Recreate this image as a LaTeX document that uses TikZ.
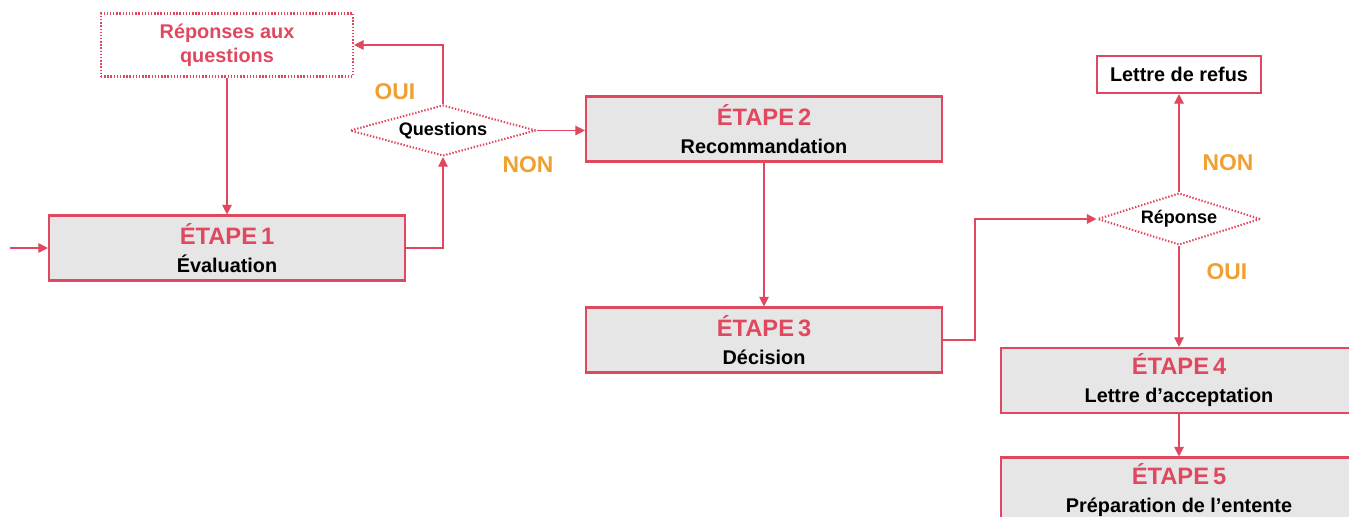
\documentclass[tikz,border=0pt]{standalone}
\usepackage{fontspec}
\setmainfont{Liberation Sans}
\usetikzlibrary{shapes.geometric,arrows.meta}
\definecolor{rouge}{HTML}{E0485F}
\definecolor{orange}{HTML}{F0A030}
\definecolor{grisclair}{HTML}{E6E6E6}
\tikzset{
  etape/.style={draw=rouge, line width=1.2pt, fill=grisclair, minimum width=7.12cm,
    minimum height=1.3cm, align=center, font=\bfseries\fontsize{11.3}{15.9}\selectfont},
  pointille/.style={draw=rouge, line width=1.2pt, dash pattern=on 0.8pt off 1pt},
  choix/.style={pointille, diamond, aspect=3.6, inner sep=0pt, align=center,
    font=\bfseries\fontsize{10.3}{12}\selectfont},
  reponse/.style={font=\bfseries\fontsize{13}{15}\selectfont, text=orange},
  fleche/.style={draw=rouge, line width=0.7pt, -{Triangle[length=5.5pt,width=5.5pt]}}
}
\newcommand{\titre}[1]{{\color{rouge}\fontsize{13.5}{15.9}\selectfont ÉTAPE\,#1}}

\begin{document}
\begin{tikzpicture}
    \useasboundingbox (0,0) rectangle (26.98,10.34);
    % Boxes of the steps
    \node[etape] (e1) at (4.54,5.38) {\titre{1}\\ Évaluation};
    \node[etape] (e2) at (15.28,7.76) {\titre{2}\\ Recommandation};
    \node[etape] (e3) at (15.28,3.54) {\titre{3}\\ Décision};
    \node[etape] (e4) at (23.58,2.73) {\titre{4}\\ Lettre d’acceptation};
    \node[etape] (e5) at (23.58,0.54) {\titre{5}\\ Préparation de l’entente};
    % Other boxes
    \node[pointille, minimum width=5.04cm, minimum height=1.26cm, align=center, text=rouge,
        font=\bfseries\fontsize{11.3}{13.6}\selectfont] (rep) at (4.54,9.44) {Réponses aux\\ questions};
    \node[draw=rouge, line width=1.2pt, minimum width=3.28cm, minimum height=0.74cm,
        font=\bfseries\fontsize{11.3}{13}\selectfont] (refus) at (23.58,8.85) {Lettre de refus};
    % Decisions
    \node[choix, minimum width=3.72cm, minimum height=1.02cm] (q) at (8.86,7.73) {Questions};
    \node[choix, minimum width=3.26cm, minimum height=1.04cm] (r) at (23.58,5.96) {Réponse};
    \coordinate (debut) at (0.2,5.38);
    % Connectors
    \draw[fleche] (debut) -- (e1.west);
    \draw[fleche] (e1.east) -| (q.south);
    \draw[fleche] (q.north) |- (rep.east);
    \draw[fleche] (rep.south) -- (e1.north);
    \draw[fleche] (q.east) -- (q.east -| e2.west);
    \draw[fleche] (e2.south) -- (e3.north);
    \draw[fleche] (e3.east) -- ++(0.64,0) |- (r.west);
    \draw[fleche] (r.north) -- (refus.south);
    \draw[fleche] (r.south) -- (e4.north);
    \draw[fleche] (e4.south) -- (e5.north);
    % Labels
    \node[reponse] (qoui) at (7.9,8.5) {OUI};
    \node[reponse] (qnon) at (10.56,7.04) {NON};
    \node[reponse] (rnon) at (24.56,7.08) {NON};
    \node[reponse] (roui) at (24.54,4.9) {OUI};
\end{tikzpicture}
\end{document}
